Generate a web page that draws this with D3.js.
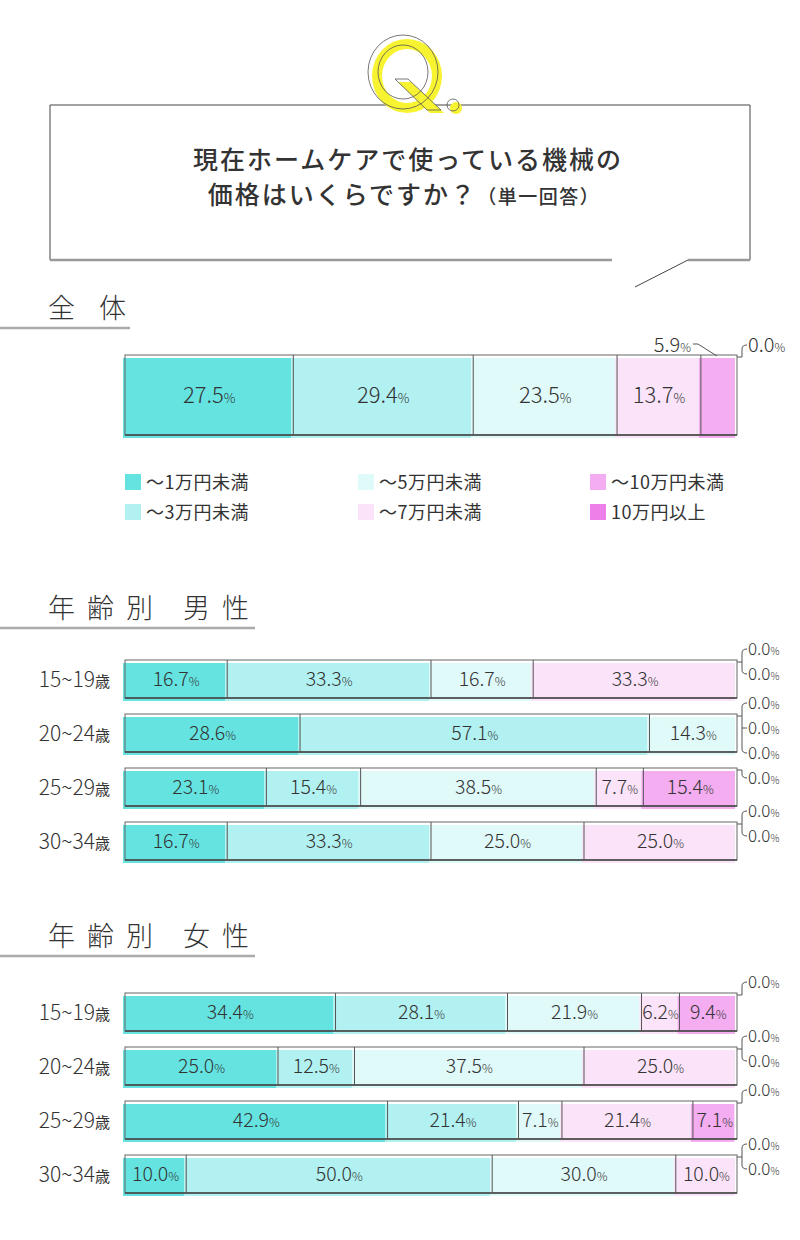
<!DOCTYPE html>
<html>
<head>
<meta charset="utf-8">
<script src="https://cdn.jsdelivr.net/npm/d3@7"></script>
<style>
  body { margin: 0; background: #fff; }
  text { font-family: "Noto Sans CJK JP", "Noto Sans", sans-serif; fill: #333; }
</style>
</head>
<body>
<svg id="chart" width="800" height="1240"></svg>
<script>
// ---- data ----
const seriesNames = ["～1万円未満", "～3万円未満", "～5万円未満", "～7万円未満", "～10万円未満", "10万円以上"];
const seriesColors = ["#64e3e1", "#b2f1f1", "#e0f9f9", "#fbe4f9", "#f3adf0", "#ef7fe8"];
const totalValues = [27.5, 29.4, 23.5, 13.7, 5.9, 0.0];
const ageGroups = ["15~19", "20~24", "25~29", "30~34"];
const maleValues = [
  [16.7, 33.3, 16.7, 33.3, 0.0, 0.0],
  [28.6, 57.1, 14.3, 0.0, 0.0, 0.0],
  [23.1, 15.4, 38.5, 7.7, 15.4, 0.0],
  [16.7, 33.3, 25.0, 25.0, 0.0, 0.0]
];
const femaleValues = [
  [34.4, 28.1, 21.9, 6.2, 9.4, 0.0],
  [25.0, 12.5, 37.5, 25.0, 0.0, 0.0],
  [42.9, 21.4, 7.1, 21.4, 7.1, 0.0],
  [10.0, 50.0, 30.0, 10.0, 0.0, 0.0]
];

const svg = d3.select("#chart");
const x = d3.scaleLinear().domain([0, 100]).range([125, 737]).clamp(true);
const fmt = d3.format(".1f");

// ---- question header ----
function drawHeader() {
  const g = svg.append("g");
  g.append("line").attr("x1", 50).attr("x2", 750).attr("y1", 105).attr("y2", 105).attr("stroke", "#444");
  g.append("line").attr("x1", 50).attr("x2", 50).attr("y1", 105).attr("y2", 260).attr("stroke", "#444");
  g.append("line").attr("x1", 750).attr("x2", 750).attr("y1", 105).attr("y2", 260).attr("stroke", "#444");
  g.append("line").attr("x1", 50).attr("x2", 612).attr("y1", 260).attr("y2", 260).attr("stroke", "#999").attr("stroke-width", 2.5);
  g.append("line").attr("x1", 688).attr("x2", 750).attr("y1", 260).attr("y2", 260).attr("stroke", "#999").attr("stroke-width", 2.5);
  g.append("line").attr("x1", 688).attr("x2", 635).attr("y1", 260).attr("y2", 287).attr("stroke", "#444");

  // Q mark
  const ring = (cx, cy) =>
    `M${cx - 35},${cy} a35,37 0 1,0 70,0 a35,37 0 1,0 -70,0 Z ` +
    `M${cx - 25},${cy} a25,27 0 1,0 50,0 a25,27 0 1,0 -50,0 Z`;
  const tail = (dx, dy) => `M${398 + dx},${82 + dy} L${411 + dx},${82 + dy} L${444 + dx},${113 + dy} L${430 + dx},${113 + dy} Z`;
  g.append("path").attr("d", ring(407, 76)).attr("fill", "#f8f330").attr("fill-rule", "evenodd");
  g.append("path").attr("d", tail(0, 0)).attr("fill", "#f8f330");
  g.append("circle").attr("cx", 456).attr("cy", 108).attr("r", 6).attr("fill", "#f8f330");
  g.append("path").attr("d", ring(403, 72)).attr("fill", "none").attr("stroke", "#555").attr("stroke-width", 0.8);
  g.append("path").attr("d", tail(-3, -3)).attr("fill", "none").attr("stroke", "#555").attr("stroke-width", 0.8);
  g.append("circle").attr("cx", 453).attr("cy", 105).attr("r", 6).attr("fill", "none").attr("stroke", "#555").attr("stroke-width", 0.8);

  g.append("text").attr("x", 408).attr("y", 169).attr("text-anchor", "middle")
    .style("font-size", "25px").style("font-weight", 500).style("letter-spacing", "2px")
    .text("現在ホームケアで使っている機械の");
  const t2 = g.append("text").attr("x", 404).attr("y", 204).attr("text-anchor", "middle")
    .style("font-size", "25px").style("font-weight", 500).style("letter-spacing", "2px");
  t2.append("tspan").text("価格はいくらですか？");
  t2.append("tspan").style("font-size", "19px").style("letter-spacing", "1.5px").text("（単一回答）");
}

function drawSection(label, y, lineWidth, spacing) {
  svg.append("text").attr("x", 48).attr("y", y)
    .style("font-size", "27px").style("font-weight", 300).style("letter-spacing", spacing + "px")
    .text(label);
  svg.append("line").attr("x1", 0).attr("x2", lineWidth).attr("y1", y + 10).attr("y2", y + 10)
    .attr("stroke", "#aaa").attr("stroke-width", 2.5);
}

function pctText(g, px, py, v, size, anchor) {
  const t = g.append("text").attr("x", px).attr("y", py).attr("text-anchor", anchor || "middle")
    .style("font-size", size + "px").style("font-weight", 300);
  t.append("tspan").text(fmt(v));
  t.append("tspan").style("font-size", Math.round(size * 0.6) + "px").text("%");
  return t;
}

// stacked bar; returns segment geometry
function drawBar(values, top, h, labelSize, outsideBelow) {
  const g = svg.append("g");
  let acc = 0;
  const segs = values.map((v, i) => {
    const s = { i, v, x0: x(acc), x1: x(acc + v) };
    acc += v;
    return s;
  });
  const visible = segs.filter(s => s.v > 0);
  g.selectAll("rect.fill").data(visible).join("rect")
    .attr("class", "fill")
    .attr("x", s => s.x0 - 2).attr("y", top + 3)
    .attr("width", s => s.x1 - s.x0).attr("height", h)
    .attr("fill", s => seriesColors[s.i]);
  g.append("rect").attr("x", x(0)).attr("y", top).attr("width", x(100) - x(0)).attr("height", h)
    .attr("fill", "none").attr("stroke", "#666").attr("stroke-width", 1);
  g.append("line").attr("x1", x(0)).attr("x2", x(100)).attr("y1", top + h).attr("y2", top + h)
    .attr("stroke", "#444").attr("stroke-width", 1.6);
  g.selectAll("line.sep").data(visible.slice(0, -1)).join("line")
    .attr("class", "sep")
    .attr("x1", s => s.x1).attr("x2", s => s.x1)
    .attr("y1", top).attr("y2", top + h)
    .attr("stroke", "#555").attr("stroke-width", 1);
  visible.forEach(s => {
    if (s.v < outsideBelow) return;
    pctText(g, (s.x0 + s.x1) / 2, top + h / 2 + labelSize * 0.36, s.v, labelSize);
  });
  return { g, segs };
}

// zero-value labels stacked to the right of the bar with a bracket
function drawZeroLabels(g, zeros, top, firstY, size) {
  if (!zeros.length) return null;
  const bx = x(100) + 5;
  const ys = zeros.map((_, k) => firstY + k * 25);
  const join = top + 2;
  const yMin = Math.min(ys[0], join), yMax = Math.max(ys[ys.length - 1], join);
  let d = `M${x(100)},${join} L${bx},${join} `;
  d += `M${bx},${yMin + (yMin === ys[0] ? 4 : 0)} L${bx},${yMax - (yMax === ys[ys.length - 1] ? 4 : 0)}`;
  ys.forEach(y => {
    if (y === yMin) d += ` M${bx},${y + 4} Q${bx},${y} ${bx + 5},${y}`;
    else if (y === yMax) d += ` M${bx},${y - 4} Q${bx},${y} ${bx + 5},${y}`;
    else d += ` M${bx},${y} L${bx + 5},${y}`;
  });
  g.append("path").attr("d", d).attr("fill", "none").attr("stroke", "#555").attr("stroke-width", 1);
  zeros.forEach((s, k) => pctText(g, bx + 6, ys[k] + size * 0.36, s.v, size, "start"));
  return ys[ys.length - 1];
}

function drawLegend() {
  const cols = [125, 358, 590];
  seriesNames.forEach((name, i) => {
    const lx = cols[Math.floor(i / 2)];
    const ly = 482 + (i % 2) * 30;
    svg.append("rect").attr("x", lx).attr("y", ly - 8).attr("width", 16).attr("height", 16).attr("fill", seriesColors[i]);
    svg.append("text").attr("x", lx + 21).attr("y", ly + 7)
      .style("font-size", "18px").style("font-weight", 400).style("letter-spacing", "0.5px").text(name);
  });
}

function drawGroup(rows, yStart) {
  const band = d3.scaleBand().domain(ageGroups).range([yStart, yStart + 200]).paddingInner(16 / 54).paddingOuter(0);
  let prevLast = -Infinity;
  ageGroups.forEach((age, r) => {
    const top = band(age), h = band.bandwidth();
    const t = svg.append("text").attr("x", 110).attr("y", top + h / 2 + 8).attr("text-anchor", "end")
      .style("font-size", "21px").style("font-weight", 300);
    t.append("tspan").text(age);
    t.append("tspan").style("font-size", "15px").style("font-weight", 400).text("歳");
    const bar = drawBar(rows[r], top, h, 19.5, 0.01);
    const zeros = bar.segs.filter(s => s.v === 0);
    const firstY = Math.max(top - 11, prevLast + 25);
    const last = drawZeroLabels(bar.g, zeros, top, firstY, 17);
    if (last !== null) prevLast = last;
  });
}

drawHeader();
drawSection("全 体", 318, 130, 9);

// overall bar
const overall = drawBar(totalValues, 355, 80, 22, 6);
overall.segs.filter(s => s.v > 0 && s.v < 6).forEach(s => {
  pctText(overall.g, s.x0 - 10, 352, s.v, 20, "end");
  overall.g.append("path")
    .attr("d", `M${s.x0 - 8},344 L${s.x0 - 3},344 L${(s.x0 + s.x1) / 2 - 2},356`)
    .attr("fill", "none").attr("stroke", "#555").attr("stroke-width", 1);
});
drawZeroLabels(overall.g, overall.segs.filter(s => s.v === 0), 355, 345, 20);

drawLegend();

drawSection("年齢別 男性", 618, 255, 12);
drawGroup(maleValues, 660);

drawSection("年齢別 女性", 946, 255, 12);
drawGroup(femaleValues, 993);
</script>
</body>
</html>
